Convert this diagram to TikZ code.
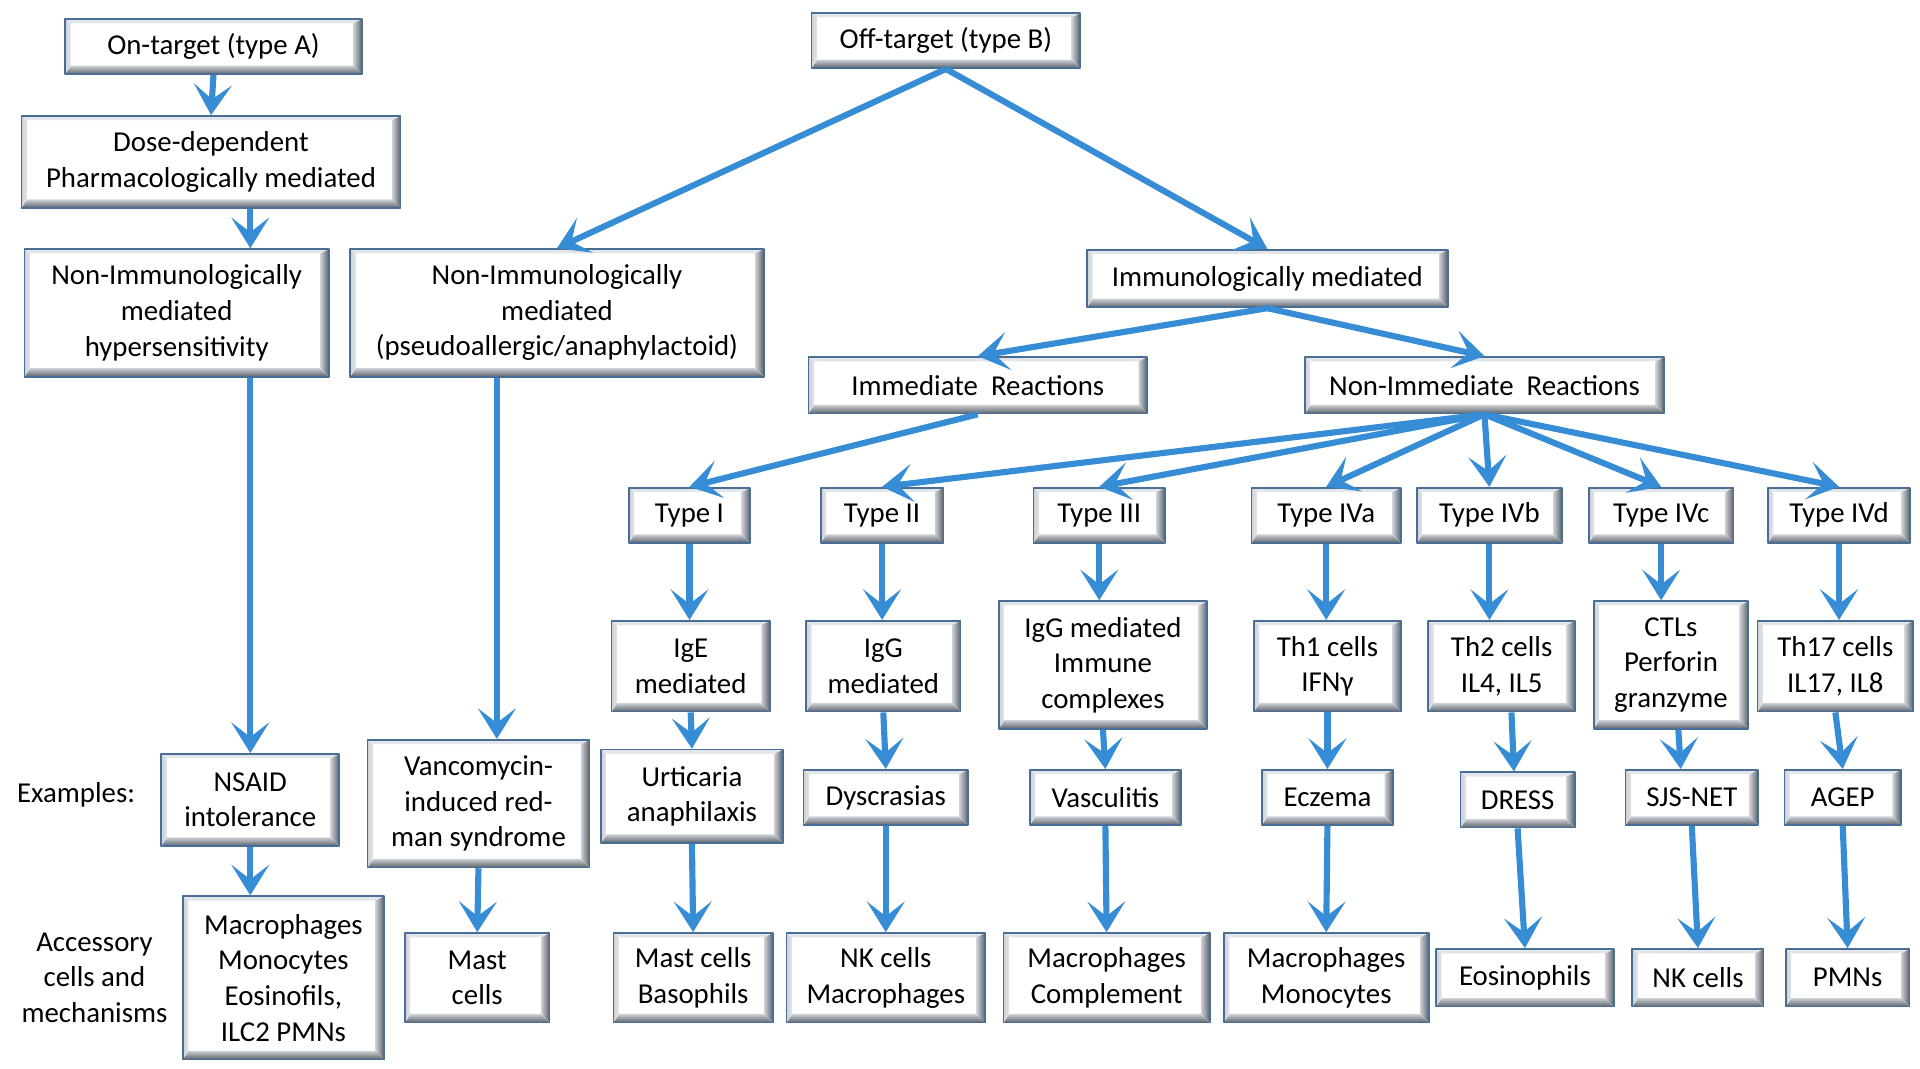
\documentclass[tikz,border=0pt]{standalone}
\usepackage{fontspec}
\setmainfont{Carlito}
\usetikzlibrary{arrows.meta}
\definecolor{arrowblue}{RGB}{55,141,213}
\definecolor{boxline}{RGB}{72,110,150}
\definecolor{bevdark}{RGB}{92,98,106}
\definecolor{bevmid}{RGB}{205,209,214}
\definecolor{bevlight}{RGB}{226,229,234}
\begin{document}
\begin{tikzpicture}[x=1pt, y=-1pt, font=\fontsize{23.5}{29}\selectfont, line join=round,
	box/.style={draw=boxline, line width=1.4pt, fill=white, align=center, inner sep=0pt,
		path picture={
			\path (path picture bounding box.south west) coordinate (q1)
				(path picture bounding box.south east) coordinate (q2)
				(path picture bounding box.north east) coordinate (q3)
				(path picture bounding box.north west) coordinate (q4);
			\fill[top color=bevmid, bottom color=bevdark] (q1) -- (q2) -- ([shift={(-7pt,7pt)}]q2) -- ([shift={(4.5pt,7pt)}]q1) -- cycle;
			\fill[left color=bevmid, right color=bevdark] (q2) -- (q3) -- ([shift={(-7pt,-3.5pt)}]q3) -- ([shift={(-7pt,7pt)}]q2) -- cycle;
			\fill[bevlight] (q3) -- (q4) -- ([shift={(4.5pt,-3.5pt)}]q4) -- ([shift={(-7pt,-3.5pt)}]q3) -- cycle;
			\fill[left color=bevmid, right color=bevlight] (q4) -- (q1) -- ([shift={(4.5pt,7pt)}]q1) -- ([shift={(4.5pt,-3.5pt)}]q4) -- cycle;
		}},
	arr/.style={draw=arrowblue, line width=5pt, -{Stealth[length=25pt, width=31pt, inset=12pt]}}]
	\useasboundingbox (0,0) rectangle (1565,870.6);
	% upper part
	\node[box, minimum width=242, minimum height=45] (ontA) at (174,38) {On-target (type A)};
	\node[box, minimum width=309, minimum height=75] (dose) at (172,132) {Dose-dependent\\Pharmacologically mediated};
	\node[box, minimum width=248, minimum height=104] (nih) at (144,255) {Non-Immunologically\\mediated\\hypersensitivity};
	\node[box, minimum width=219, minimum height=45] (offB) at (771,33) {Off-target (type B)};
	\node[box, minimum width=337, minimum height=104] (pseudo) at (454,255) {Non-Immunologically\\mediated\\(pseudoallergic/anaphylactoid)};
	\node[box, minimum width=294, minimum height=47] (immuno) at (1033,227) {Immunologically mediated};
	\node[box, minimum width=276, minimum height=46] (immed) at (797,314) {Immediate\ \ Reactions};
	\node[box, minimum width=293, minimum height=46] (nonimm) at (1210,314) {Non-Immediate\ \ Reactions};
	% types, mechanisms, examples, cells
	\foreach \n/\x/\y/\w/\h/\t in {t1/562/420/99/45/Type I, t2/719/420/100/45/Type II, t3/896/420/107/45/Type III,
		t4a/1081/420/122/45/Type IVa, t4b/1214/420/118/45/Type IVb, t4c/1354/420/118/45/Type IVc, t4d/1499/420/116/45/Type IVd,
		ige/563/543/129/74/{IgE\\mediated}, igg/720/543/126/74/{IgG\\mediated}, igc/899/542/170/104/{IgG mediated\\Immune\\complexes},
		th1/1082/543/120/74/{Th1 cells\\IFNγ}, th2/1224/543/120/74/{Th2 cells\\IL4, IL5}, ctl/1362/542/126/104/{CTLs\\Perforin\\granzyme},
		th17/1496/543/127/74/{Th17 cells\\IL17, IL8},
		nsaid/204/652/145/75/{NSAID\\intolerance}, van/390/655/181/104/{Vancomycin-\\induced red-\\man syndrome},
		urt/564/649/148/76/{Urticaria\\anaphilaxis}, dys/722/650/134/45/Dyscrasias, vas/901/650/123/45/Vasculitis,
		ecz/1082/650/107/45/Eczema, dress/1237/652/93/45/DRESS, sjs/1379/650/108/45/SJS-NET, agep/1502/650/95/45/AGEP,
		mmei/231/797/164/133/{Macrophages\\Monocytes\\Eosinofils,\\ILC2 PMNs}, mast/389/797/118/73/{Mast\\cells},
		mcb/565/797/130/73/{Mast cells\\Basophils}, nkm/722/797/162/73/{NK cells\\Macrophages},
		mco/902/797/168/73/{Macrophages\\Complement}, mmo/1081/797/167/73/{Macrophages\\Monocytes},
		eos/1243/797/145/47/Eosinophils, nkc/1384/797/107/47/NK cells, pmn/1506/797/101/47/PMNs}
		\node[box, minimum width=\w, minimum height=\h] (\n) at (\x,\y) {\t};
	\node[align=center] (exlab) at (62,648) {Examples:};
	\node[align=center] (acclab) at (77,797) {Accessory\\cells and\\mechanisms};
	\coordinate (vtop) at ([xshift=15pt]van.north);
	% arrows
	\draw[arr] (ontA.south) -- (dose.north);
	\draw[arr] (dose.south -| nsaid) -- (nih.north -| nsaid);
	\draw[arr] (nih.south -| nsaid) -- (nsaid.north);
	\draw[arr] (nsaid.south) -- (nsaid.south |- mmei.north);
	\draw[arr] (pseudo.south -| vtop) -- (vtop);
	\draw[arr] (offB.south) -- (pseudo.north);
	\draw[arr] (offB.south) -- (immuno.north);
	\draw[arr] (immuno.south) -- (immed.north);
	\draw[arr] (immuno.south) -- (nonimm.north);
	\draw[arr] (immed.south) -- (t1.north);
	\foreach \b in {t2,t3,t4a,t4b,t4c,t4d} \draw[arr] (nonimm.south) -- (\b.north);
	\foreach \a/\b in {t1/ige,t2/igg,t3/igc,t4a/th1,t4b/th2,t4c/ctl,t4d/th17} \draw[arr] (\a.south) -- (\a.south |- \b.north);
	\draw[arr] ([xshift=8pt]th2.south) -- ([xshift=-3pt]dress.north);
	\draw[arr] ([xshift=6pt]ctl.south) -- ([xshift=-9pt]sjs.north);
	\foreach \a/\b in {ige/urt,igg/dys,igc/vas,th1/ecz,th17/agep,
		van/mast,urt/mcb,dys/nkm,vas/mco,ecz/mmo,dress/eos,sjs/nkc,agep/pmn} \draw[arr] (\a.south) -- (\b.north);
\end{tikzpicture}
\end{document}
